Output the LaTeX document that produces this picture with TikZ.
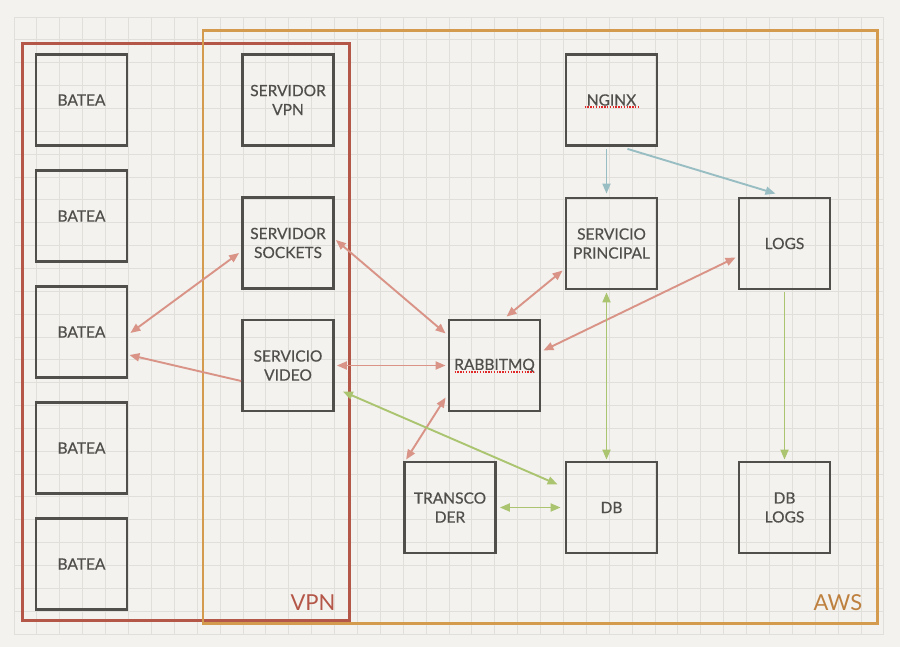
\documentclass[tikz,border=0pt]{standalone}
\usepackage{fontspec}
\setmainfont{Lato}
\newfontfamily\boxfont{Lato}[FakeBold=0.4]
\usetikzlibrary{arrows.meta,calc}
\definecolor{paper}{RGB}{243,242,238}
\definecolor{gridc}{RGB}{224,223,218}
\definecolor{boxc}{RGB}{80,79,76}
\definecolor{txtc}{RGB}{80,79,75}
\definecolor{vpnc}{RGB}{180,86,72}
\definecolor{awsc}{RGB}{212,155,78}
\definecolor{awstxt}{RGB}{190,128,62}
\definecolor{redar}{RGB}{217,147,135}
\definecolor{greenar}{RGB}{170,196,112}
\definecolor{bluear}{RGB}{152,190,195}
\definecolor{spell}{RGB}{225,40,40}
\tikzset{
  boxn/.style={draw=boxc, line width=2.8pt, minimum width=91pt, minimum height=91pt,
    inner sep=2pt, align=center, text=txtc, font=\boxfont\fontsize{15.5}{19}\selectfont},
  gridline/.style={draw=gridc, line width=0.8pt},
  conn/.style={line width=1.9pt, arrows={-Triangle[length=10pt,width=8pt]}},
  biconn/.style={line width=1.9pt, arrows={Triangle[length=10pt,width=8pt]-Triangle[length=10pt,width=8pt]}},
  rc/.style={draw=redar, color=redar},
  gc/.style={draw=greenar, color=greenar},
  bc/.style={draw=bluear, color=bluear},
  spellline/.style={draw=spell, line width=1.4pt, dash pattern=on 1.4pt off 1.4pt},
  region/.style={line width=2.5pt},
  regionlabel/.style={font=\fontsize{22}{24}\selectfont, inner sep=0pt}
}
\begin{document}
\begin{tikzpicture}[x=1pt,y=-1pt]
\useasboundingbox (0,0) rectangle (900,647);
\fill[paper] (0,0) rectangle (900,647);
% grid
\foreach \i in {0,...,38} { \draw[gridline] ({14+\i*22.89},17) -- ({14+\i*22.89},634); }
\foreach \j in {0,...,27} { \draw[gridline] (14,{17+\j*22.85}) -- (884,{17+\j*22.85}); }
% regions
\draw[region, draw=vpnc] (22.7,43.7) rectangle (349.5,620.5);
\draw[region, draw=awsc] (203,30.5) rectangle (877.5,623.5);
\node[regionlabel, text=vpnc] (vpnlabel) at (313,603) {VPN};
\node[regionlabel, text=awstxt] (awslabel) at (838,603) {AWS};
% boxes
\node[boxn] (batea1) at (81.5,100) {BATEA};
\node[boxn] (batea2) at (81.5,216) {BATEA};
\node[boxn] (batea3) at (81.5,332) {BATEA};
\node[boxn] (batea4) at (81.5,448) {BATEA};
\node[boxn] (batea5) at (81.5,564) {BATEA};
\node[boxn] (vpn) at (288,100) {SERVIDOR\\VPN};
\node[boxn] (sockets) at (288,243) {SERVIDOR\\SOCKETS};
\node[boxn] (video) at (288,365.5) {SERVICIO\\VIDEO};
\node[boxn] (rabbit) at (494.5,365.5) {RABBITMQ};
\node[boxn] (nginx) at (611.5,100) {NGINX};
\node[boxn] (principal) at (611.5,243.5) {SERVICIO\\PRINCIPAL};
\node[boxn] (logs) at (784.5,243.5) {LOGS};
\node[boxn] (transcoder) at (450,507.5) {TRANSCO\\DER};
\node[boxn] (db) at (611.5,507.5) {DB};
\node[boxn] (dblogs) at (784.5,507.5) {DB\\LOGS};
% spell-check underlines
\draw[spellline] ($(nginx.center)+(-27,7)$) -- ($(nginx.center)+(27,7)$);
\draw[spellline] ($(rabbit.center)+(-40,6.5)$) -- ($(rabbit.center)+(40,6.5)$);
% red connectors
\draw[biconn, rc] ($(batea3.east)+(2,1)$) -- ($(sockets.west)+(-2,10)$);
\draw[conn, rc] ($(video.west)+(0,15.5)$) -- ($(batea3.east)+(1,23)$);
\draw[biconn, rc] ($(sockets.east)+(1,-3)$) -- ($(rabbit.west)+(-2,-32)$);
\draw[biconn, rc] ($(video.east)+(2,0)$) -- ($(rabbit.west)+(-2,0)$);
\draw[biconn, rc] ($(rabbit.north)+(12,-2)$) -- ($(principal.west)+(-2,27)$);
\draw[biconn, rc] ($(rabbit.east)+(2,-15)$) -- ($(logs.west)+(-2,14)$);
\draw[biconn, rc] ($(rabbit.west)+(-2,32)$) -- ($(transcoder.north west)+(3,-1)$);
% green connectors
\draw[biconn, gc] ($(video.east)+(8,26)$) -- ($(db.west)+(-7,-23)$);
\draw[biconn, gc] ($(transcoder.east)+(3,0)$) -- ($(db.west)+(-4,0)$);
\draw[biconn, gc] ($(principal.south)+(-5,2)$) -- ($(db.north)+(-5,-1)$);
\draw[conn, gc] ($(logs.south)+(0,2)$) -- ($(dblogs.north)+(0,-1)$);
% blue connectors
\draw[conn, bc] ($(nginx.south)+(-5,2)$) -- ($(principal.north)+(-5,-3)$);
\draw[conn, bc] ($(nginx.south)+(16,2)$) -- ($(logs.north)+(-9,-3)$);
\end{tikzpicture}
\end{document}
